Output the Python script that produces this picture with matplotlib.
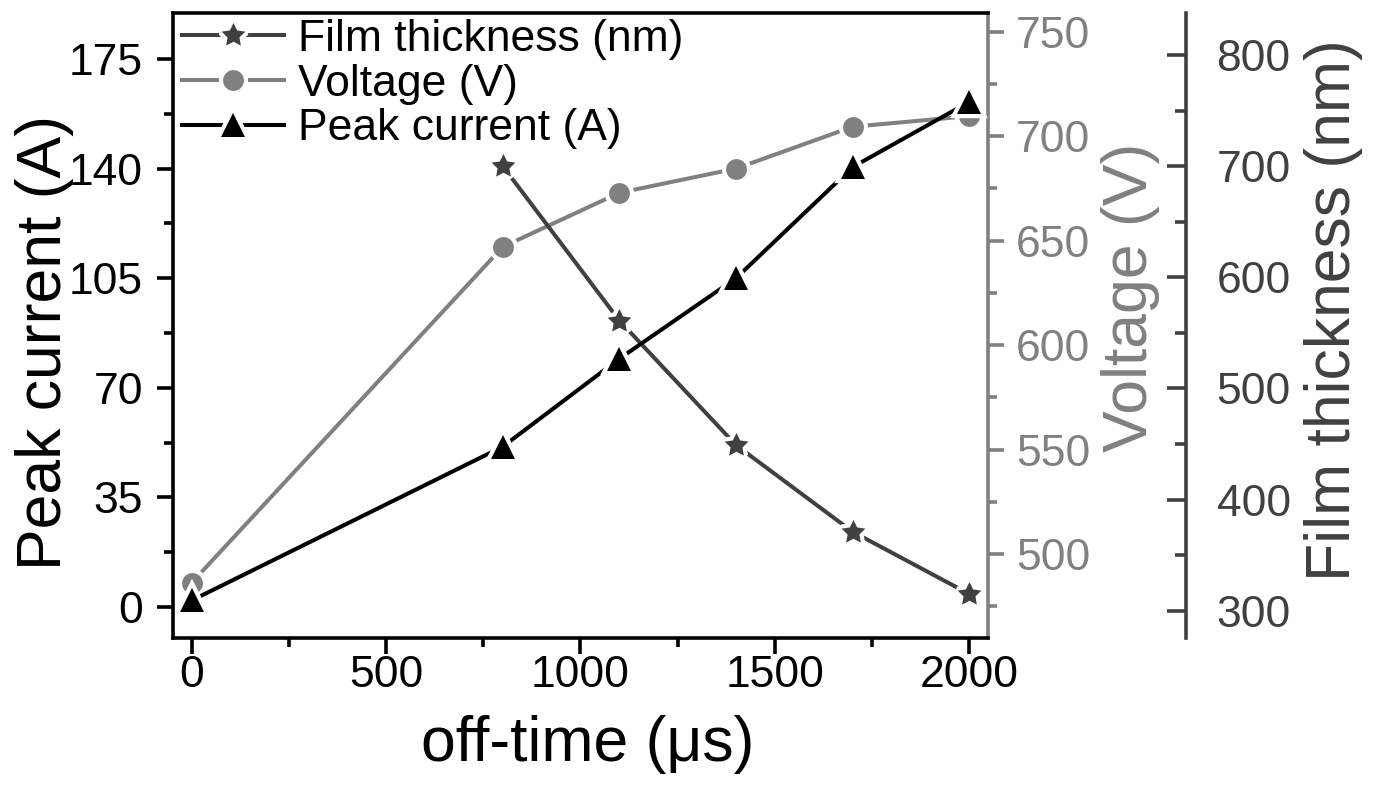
import matplotlib
matplotlib.use("Agg")
import matplotlib.pyplot as plt
from matplotlib.ticker import MultipleLocator
from matplotlib.legend_handler import HandlerTuple

plt.rcParams['font.family'] = ['Liberation Sans', 'DejaVu Sans']

# ---- data ----
off_time = [0, 800, 1100, 1400, 1700, 2000]
peak_current = [2.1, 51.2, 79.3, 105.0, 140.5, 161.3]
voltage = [486.3, 647.0, 672.9, 684.5, 704.5, 709.6]
film_x = [800, 1100, 1400, 1700, 2000]
film_thickness = [700, 561, 449, 371, 315]

x_ticks = [0, 500, 1000, 1500, 2000]
current_ticks = [0, 35, 70, 105, 140, 175]
voltage_ticks = [500, 550, 600, 650, 700, 750]
film_ticks = [300, 400, 500, 600, 700, 800]

C_FILM = '#404040'
C_VOLT = '#808080'
C_CUR = '#000000'

W, H, DPI = 1391, 792, 100
fig = plt.figure(figsize=(W / DPI, H / DPI), dpi=DPI)
L, R = 172.7 / W, 988.3 / W
B, T = 1 - 638 / H, 1 - 12.7 / H
ax1 = fig.add_axes([L, B, R - L, T - B])
ax2 = ax1.twinx()
ax3 = ax1.twinx()

TFS = 32
LFS = 45
LW = 2.9
SW = 2.6
HALO = 6.0

# z-order: current axis on top
ax2.set_zorder(1)
ax3.set_zorder(2)
ax1.set_zorder(3)
for a in (ax1, ax2, ax3):
    a.patch.set_visible(False)


def series(ax, x, y, color, marker, ms):
    base, = ax.plot(x, y, color=color, lw=LW, marker=marker, ms=ms,
                    mfc='white', mec='white', mew=HALO)
    mk, = ax.plot(x, y, ls='none', marker=marker, ms=ms, mfc=color, mew=0)
    return (base, mk)


hv = series(ax2, off_time, voltage, C_VOLT, 'o', 15)
hf = series(ax3, film_x, film_thickness, C_FILM, (5, 1, 0), 18)
hc = series(ax1, off_time, peak_current, C_CUR, '^', 17)

# ---- ax1 (current, x) ----
ax1.set_xlim(-49, 2049)
ax1.set_ylim(-9.9, 189.8)
ax1.set_xticks(x_ticks)
ax1.set_yticks(current_ticks)
ax1.xaxis.set_minor_locator(MultipleLocator(250))
ax1.yaxis.set_minor_locator(MultipleLocator(17.5))
for s in ('left', 'bottom', 'top'):
    ax1.spines[s].set_linewidth(SW)
    ax1.spines[s].set_color('black')
ax1.spines['right'].set_visible(False)
ax1.tick_params(axis='both', which='major', direction='out', length=11.5, width=SW,
                labelsize=TFS, colors='black')
ax1.tick_params(axis='both', which='minor', direction='out', length=6.5, width=SW)
ax1.tick_params(axis='y', which='major', pad=10)
ax1.tick_params(axis='x', which='major', pad=1)
ax1.tick_params(axis='x', which='both', top=False)

ax1.set_xlabel('off-time (\u03bcs)', fontsize=LFS)
ax1.xaxis.label.set_va('center')
ax1.xaxis.set_label_coords(0.509, -0.17)
ax1.set_ylabel('Peak current (A)', fontsize=LFS)
ax1.yaxis.label.set_va('center')
ax1.yaxis.set_label_coords(-0.1566, 0.473)

# ---- ax2 (voltage) ----
ax2.set_ylim(459.8, 759.1)
ax2.set_yticks(voltage_ticks)
ax2.yaxis.set_minor_locator(MultipleLocator(25))
for s in ('left', 'bottom', 'top'):
    ax2.spines[s].set_visible(False)
ax2.spines['right'].set_color(C_VOLT)
ax2.spines['right'].set_linewidth(SW)
ax2.tick_params(axis='y', which='major', direction='out', length=11.5, width=SW,
                labelsize=TFS, colors=C_VOLT, pad=8.5)
ax2.tick_params(axis='y', which='minor', direction='out', length=6.5, width=SW,
                colors=C_VOLT)
ax2.set_ylabel('Voltage (V)', fontsize=LFS, color=C_VOLT, rotation=90)
ax2.yaxis.label.set_va('center')
ax2.yaxis.set_label_coords(1.1738, 0.545)

# ---- ax3 (film thickness) ----
ax3.set_ylim(275.4, 838.1)
ax3.set_yticks(film_ticks)
ax3.yaxis.set_minor_locator(MultipleLocator(50))
ax3.spines['right'].set_position(('axes', 1.2424))
for s in ('left', 'bottom', 'top'):
    ax3.spines[s].set_visible(False)
ax3.spines['right'].set_color(C_FILM)
ax3.spines['right'].set_linewidth(SW)
ax3.tick_params(axis='y', which='major', direction='in', length=13.5, width=SW,
                labelsize=TFS, colors=C_FILM, pad=22)
ax3.tick_params(axis='y', which='minor', direction='in', length=8, width=SW,
                colors=C_FILM)
ax3.set_ylabel('Film thickness (nm)', fontsize=LFS, color=C_FILM, rotation=90)
ax3.yaxis.label.set_va('center')
ax3.yaxis.set_label_coords(1.4227, 0.5245)

leg = ax1.legend(handles=[hf, hv, hc],
                 labels=['Film thickness (nm)', 'Voltage (V)', 'Peak current (A)'],
                 handler_map={tuple: HandlerTuple(ndivide=1)},
                 loc='upper left', bbox_to_anchor=(0.0114, 0.990),
                 frameon=False, fontsize=32, handlelength=2.3, handletextpad=0.3,
                 labelspacing=0.08, borderaxespad=0.0, borderpad=0.0)

fig.savefig('out.png', dpi=DPI)
